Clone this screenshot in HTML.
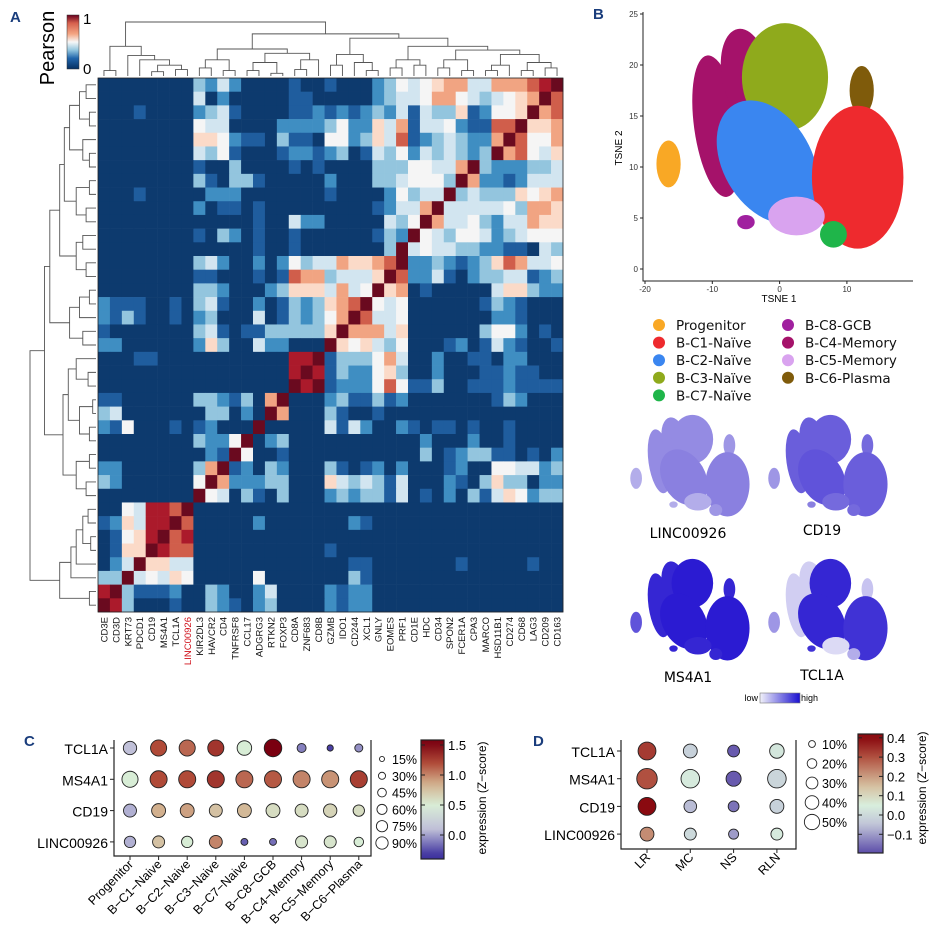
<!DOCTYPE html>
<html><head><meta charset="utf-8">
<style>
html,body{margin:0;padding:0;background:#fff;}
svg{display:block;font-family:"Liberation Sans",Arial,sans-serif;}
</style></head>
<body>
<svg id="fig" width="934" height="942" viewBox="0 0 934 942" xmlns="http://www.w3.org/2000/svg">
<defs>
<linearGradient id="gPear" x1="0" y1="1" x2="0" y2="0">
<stop offset="0" stop-color="#053061"/><stop offset="0.2" stop-color="#2166ac"/><stop offset="0.35" stop-color="#92c5de"/><stop offset="0.5" stop-color="#f7f7f7"/><stop offset="0.65" stop-color="#f4a582"/><stop offset="0.85" stop-color="#d6604d"/><stop offset="1" stop-color="#67001f"/>
</linearGradient>
<linearGradient id="gLow" x1="0" y1="0" x2="1" y2="0"><stop offset="0" stop-color="#f2f2fa"/><stop offset="1" stop-color="#1a10d0"/></linearGradient>
</defs>
<g id="panelA"></g>
<g id="panelB"></g>
<g id="panelC"></g>
<g id="panelD"></g>
</svg>
<script>
// ---------- Panel A data ----------
const genes = ["CD3E","CD3D","KRT73","PDCD1","CD19","MS4A1","TCL1A","LINC00926","KIR2DL3","HAVCR2","CD4","TNFRSF8","CCL17","ADGRG3","RTKN2","FOXP3","CD8A","ZNF683","CD8B","GZMB","IDO1","CD244","XCL1","GNLY","EOMES","PRF1","CD1E","HDC","CD34","SPON2","FCER1A","CPA3","MARCO","HSD11B1","CD274","CD68","LAG3","CD209","CD163"];
const corrRows = [
"00000000"+"32420000"+"10010002"+"35456774"+"477789A",
"00000000"+"40200000"+"11000002"+"34457754"+"34567A8",
"00010000"+"23410000"+"11212123"+"24143361"+"2556A78",
"00000000"+"54400002"+"22235226"+"47144521"+"188A667",
"00000000"+"66521103"+"11055236"+"48123432"+"27A8557",
"00000000"+"43510001"+"22123014"+"35243432"+"3A78546",
"00000000"+"10030000"+"10100003"+"3355447A"+"3222334",
"00000000"+"31033100"+"00020003"+"345553A7"+"2212444",
"00010000"+"02220000"+"00010000"+"25344A34"+"3336567",
"00000000"+"20110100"+"00000001"+"2447A444"+"4453776",
"00000000"+"00000100"+"42200000"+"435A7445"+"3244766",
"00000000"+"10320100"+"10000001"+"32A54355"+"4234555",
"00000000"+"00000100"+"10000000"+"3A454433"+"2211043",
"00000000"+"34200202"+"53447667"+"8A223212"+"3687445",
"00000000"+"11000101"+"87734446"+"A8224102"+"3344123",
"00000000"+"33200023"+"6664745A"+"67010000"+"0466322",
"21110010"+"34100201"+"323678A5"+"45000000"+"1321000",
"21310010"+"23000401"+"32357A84"+"45000000"+"0221000",
"10000000"+"34101133"+"3336A777"+"46000000"+"3552010",
"22000000"+"26300422"+"000A6564"+"35000120"+"1421001",
"00011000"+"00000000"+"99A13335"+"74002001"+"1022000",
"00000000"+"00000000"+"9A913225"+"63002000"+"1121100",
"00000000"+"00000000"+"A9A12225"+"85113001"+"1121111",
"11000000"+"3321307A"+"00023113"+"12000000"+"0132000",
"34000000"+"033020A7"+"00031001"+"00000000"+"0000000",
"21500010"+"12000A00"+"00041420"+"02101101"+"0010000",
"00000000"+"3225A023"+"00000000"+"00020002"+"0010000",
"00000000"+"021A5001"+"00000000"+"00030123"+"3110102",
"22000000"+"37A12032"+"00031012"+"02000120"+"0554423",
"32000000"+"5A722233"+"00064343"+"14000210"+"3633022",
"00000000"+"A5403103"+"00023233"+"14010203"+"1465233",
"0054998A"+"00000000"+"00000000"+"00000000"+"0000000",
"126499A8"+"00000200"+"00000210"+"00000000"+"0000000",
"01569A89"+"00000000"+"00000000"+"00000000"+"0000000",
"0166A988"+"00000000"+"00010000"+"00000000"+"0000000",
"024A6644"+"00000000"+"00000110"+"00000010"+"0000100",
"33A45465"+"00000500"+"00000310"+"00000000"+"0000000",
"9A311120"+"03200240"+"00021220"+"00000000"+"0000000",
"A9300010"+"03210230"+"00021220"+"00000000"+"0000000"
];
const dendro = [1.0,
 [0.55,[0.1,0,1],[0.38,2,[0.3,3,[0.2,[0.08,4,5],[0.12,6,7]]]]],
 [0.78,
  [0.5,[0.3,[0.15,8,9],[0.1,10,11]],[0.42,[0.25,[0.1,12,13],[0.05,14,15]],[0.3,[0.12,16,17],18]]],
  [0.7,[0.4,[0.2,19,20],[0.25,21,[0.1,22,23]]],[0.55,[0.3,[0.15,24,25],[0.2,26,27]],[0.48,[0.3,[0.15,28,29],[0.1,30,31]],[0.4,[0.2,[0.1,32,33],34],[0.25,[0.1,35,36],[0.15,37,38]]]]]]]];

// ---------- Panel B data ----------
const clusterNames = ["Progenitor","B-C1-Naïve","B-C2-Naïve","B-C3-Naïve","B-C7-Naïve","B-C8-GCB","B-C4-Memory","B-C5-Memory","B-C6-Plasma"];
const clusterColors = ["#f9a825","#ee2a2e","#3a86f0","#8faa1c","#1fb54a","#a0209f","#a5126a","#d9a3ef","#7f5b0b"];
const blobCluster = [6,6,3,8,2,1,7,4,5,0];
const blobCx = [-9.3,-5,0.8,12.2,-1.8,11.6,2.5,8,-5,-16.5];
const blobCy = [14,19,18.8,17.5,10.5,9,5.2,3.4,4.6,10.3];
const blobRx = [3.4,3.6,6.4,1.8,6.6,6.8,4.2,2,1.3,1.8];
const blobRy = [7,4.6,5.3,2.4,6.5,7,1.9,1.3,0.7,2.3];
const blobRot = [-8,-10,0,0,-30,0,0,0,0,0];
const tsneXTicks = [-20,-10,0,10];
const tsneYTicks = [0,5,10,15,20,25];
const featureGenes = ["LINC00926","CD19","MS4A1","TCL1A"];
const featLINC = [.3,.5,.5,.45,.4,.3,.45,.3,.4];
const featCD19 = [.4,.65,.7,.65,.6,.5,.65,.6,.6];
const featMS4A1 = [.7,.95,.95,.95,.9,.9,.9,.9,.9];
const featTCL1A = [.4,.85,.9,.9,.3,.85,.15,.1,.2];

// ---------- Panel C data ----------
const cGenes = ["TCL1A","MS4A1","CD19","LINC00926"];
const cGroups = ["Progenitor","B−C1−Naive","B−C2−Naive","B−C3−Naive","B−C7−Naive","B−C8−GCB","B−C4−Memory","B−C5−Memory","B−C6−Plasma"];
const cExpTCL1A = [0.1,1.2,1.1,1.3,0.5,1.55,-0.1,-0.3,-0.05];
const cExpMS4A1 = [0.5,1.2,1.2,1.3,1.1,1.15,1.0,0.95,1.25];
const cExpCD19 = [0.05,0.85,0.9,0.75,0.8,0.6,0.6,0.65,0.6];
const cExpLINC = [0.05,0.75,0.5,1.0,-0.2,-0.15,0.55,0.55,0.5];
const cPctTCL1A = [55,80,80,80,65,95,25,12,20];
const cPctMS4A1 = [80,90,90,90,90,90,90,90,90];
const cPctCD19 = [52,60,60,52,60,60,52,55,40];
const cPctLINC = [40,45,40,52,15,15,45,45,28];
const cSizeLegend = [15,30,45,60,75,90];
const cColorTicks = [1.5,1.0,0.5,0.0];

// ---------- Panel D data ----------
const dGenes = ["TCL1A","MS4A1","CD19","LINC00926"];
const dGroups = ["LR","MC","NS","RLN"];
const dExpTCL1A = [0.33,-0.02,-0.18,0.03];
const dExpMS4A1 = [0.3,0.04,-0.18,-0.01];
const dExpCD19 = [0.42,-0.06,-0.15,-0.02];
const dExpLINC = [0.22,0.0,-0.1,0.04];
const dPctTCL1A = [38,23,17,25];
const dPctMS4A1 = [50,41,27,41];
const dPctCD19 = [38,19,14,23];
const dPctLINC = [23,17,12,17];
const dSizeLegend = [10,20,30,40,50];
const dColorTicks = [0.4,0.3,0.2,0.1,0.0,-0.1];

// ---------- helpers ----------
const NS="http://www.w3.org/2000/svg";
function mk(parent,tag,attrs,text){const e=document.createElementNS(NS,tag);for(const k in attrs)e.setAttribute(k,attrs[k]);if(text!==undefined)e.textContent=text;parent.appendChild(e);return e;}
function hex2rgb(h){return [parseInt(h.slice(1,3),16),parseInt(h.slice(3,5),16),parseInt(h.slice(5,7),16)];}
function interp(stops,v){if(v<=stops[0][0])return stops[0][1];if(v>=stops[stops.length-1][0])return stops[stops.length-1][1];
 for(let i=0;i<stops.length-1;i++){const a=stops[i],b=stops[i+1];if(v>=a[0]&&v<=b[0]){const t=(v-a[0])/(b[0]-a[0]);const A=hex2rgb(a[1]),B=hex2rgb(b[1]);return "rgb("+A.map((x,j)=>Math.round(x+(B[j]-x)*t)).join(",")+")";}}}
const rdbu=["#0d3a6e","#1f5d9e","#3f8ec2","#93c5de","#d2e5f0","#f5f5f5","#fbdac8","#f1a482","#d05e4b","#ab1a2b","#6a0a1f"];

// ---------- Panel A ----------
const A=document.getElementById('panelA');
const hx0=98,hy0=78,hw=465,hh=534,cw=hw/39,rh=hh/39;
let t=mk(A,'text',{x:10,y:22,'font-size':15,'font-weight':'bold',fill:'#1a3d7c'},'A');

t=mk(A,'text',{x:0,y:0,'font-size':20,transform:'translate(54,48) rotate(-90)','text-anchor':'middle'},'Pearson');

let cb=mk(A,'rect',{x:67,y:15,width:12,height:54,fill:'url(#gPear)',stroke:'#333','stroke-width':0.5});

t=mk(A,'text',{x:83,y:24,'font-size':15},'1');
t=mk(A,'text',{x:83,y:74,'font-size':15},'0');
const hm=mk(A,'g',{});
for(let r=0;r<39;r++){for(let c=0;c<39;c++){const v=parseInt(corrRows[r][c],16);
 const el=mk(hm,'rect',{x:(hx0+c*cw).toFixed(2),y:(hy0+r*rh).toFixed(2),width:(cw+0.3).toFixed(2),height:(rh+0.3).toFixed(2),fill:rdbu[v]});
 }}
mk(A,'rect',{x:hx0,y:hy0,width:hw,height:hh,fill:'none',stroke:'#222','stroke-width':0.8});
genes.forEach((g,i)=>{const x=hx0+(i+0.5)*cw;
 const el=mk(A,'text',{x:0,y:0,'font-size':9.5,'text-anchor':'end',fill:g==='LINC00926'?'#d0101a':'#111',transform:`translate(${(x+3.5).toFixed(1)},${hy0+hh+5}) rotate(-90)`},g);
 });
function drawDendro(node,g,orient){
 if(typeof node==='number'){const p=orient==='top'?hx0+(node+0.5)*cw:hy0+(38-node+0.5)*rh;return {p:p,h:0};}
 const L=drawDendro(node[1],g,orient),R=drawDendro(node[2],g,orient),h=node[0];
 let d;
 if(orient==='top'){const s=v=>hy0-2-v*54;d=`M${L.p},${s(L.h)}V${s(h)}H${R.p}V${s(R.h)}`;}
 else{const s=v=>hx0-2-v*66;d=`M${s(L.h)},${L.p}H${s(h)}V${R.p}H${s(R.h)}`;}
 mk(g,'path',{d:d,fill:'none',stroke:'#555','stroke-width':0.9});
 return {p:(L.p+R.p)/2,h:h};}
const dt=mk(A,'g',{});
drawDendro(dendro,dt,'top');
const dl=mk(A,'g',{});
drawDendro(dendro,dl,'left');

// ---------- Panel B ----------
const B=document.getElementById('panelB');
t=mk(B,'text',{x:593,y:19,'font-size':15,'font-weight':'bold',fill:'#1a3d7c'},'B');

const tx=v=>645+(v+20)*6.73, ty=v=>269-v*10.2;
const bl=mk(B,'g',{});
blobCluster.forEach((ci,i)=>{const cx=tx(blobCx[i]),cy=ty(blobCy[i]);
 const e=mk(bl,'ellipse',{cx:cx,cy:cy,rx:blobRx[i]*6.73,ry:blobRy[i]*10.2,fill:clusterColors[ci],transform:`rotate(${blobRot[i]},${cx},${cy})`});
 });
let ax=mk(B,'path',{d:`M643,12V281H913`,fill:'none',stroke:'#222','stroke-width':1});

tsneXTicks.forEach(v=>{mk(B,'line',{x1:tx(v),x2:tx(v),y1:281,y2:284,stroke:'#222'});
 const e=mk(B,'text',{x:tx(v),y:292,'font-size':8,'text-anchor':'middle',fill:'#333'},String(v));});
tsneYTicks.forEach(v=>{mk(B,'line',{x1:640,x2:643,y1:ty(v),y2:ty(v),stroke:'#222'});
 const e=mk(B,'text',{x:638,y:ty(v)+3,'font-size':8,'text-anchor':'end',fill:'#333'},String(v));});
t=mk(B,'text',{x:779,y:302,'font-size':10,'text-anchor':'middle'},'TSNE 1');
t=mk(B,'text',{x:0,y:0,'font-size':10,'text-anchor':'middle',transform:'translate(622,148) rotate(-90)'},'TSNE 2');
clusterNames.forEach((n,i)=>{const col=i<5?0:1,row=i<5?i:i-5;const cx=col?788:659,cy=325+row*17.6;
 const g=mk(B,'g',{});
 mk(g,'circle',{cx:cx,cy:cy,r:6,fill:clusterColors[i]});
 mk(g,'text',{x:cx+17,y:cy+5,'font-size':13.5,fill:'#111','font-family':'"DejaVu Sans","Liberation Sans",sans-serif'},n);});
const featVals=[featLINC,featCD19,featMS4A1,featTCL1A];
const featOx=[628,766,628,766],featOy=[413,413,557,557],featLx=[688,822,688,822],featLy=[538,535,682,680];
featureGenes.forEach((gn,k)=>{const g=mk(B,'g',{});
 const fx=v=>featOx[k]+(v+19)*3.25, fy=v=>featOy[k]+(24.5-v)*4.6;
 blobCluster.forEach((ci,i)=>{const cx=fx(blobCx[i]),cy=fy(blobCy[i]);
  const e=mk(g,'ellipse',{cx:cx,cy:cy,rx:blobRx[i]*3.25,ry:blobRy[i]*4.6,fill:interp([[0,'#f0f0fa'],[0.5,'#8a80e0'],[1,'#2010d0']],featVals[k][ci]),transform:`rotate(${blobRot[i]},${cx},${cy})`});
  });
 mk(g,'text',{x:featLx[k],y:featLy[k],'font-size':14,'text-anchor':'middle','font-family':'"DejaVu Sans","Liberation Sans",sans-serif'},gn);});
t=mk(B,'text',{x:758,y:701,'font-size':9,'text-anchor':'end'},'low');
cb=mk(B,'rect',{x:760,y:693,width:40,height:10,fill:'url(#gLow)',stroke:'#777','stroke-width':0.6});
t=mk(B,'text',{x:801,y:701,'font-size':9},'high');

// ---------- dot plot helper ----------
function dotPlot(P,o){
 let e=mk(P,'text',{x:o.lx,y:o.ly,'font-size':15,'font-weight':'bold',fill:'#1a3d7c'},o.label);
 e=mk(P,'path',{d:`M${o.x0},${o.top}V${o.bot}H${o.x1}V${o.top}`,fill:'none',stroke:'#222','stroke-width':1.2});
 o.genes.forEach((gn,r)=>{const y=o.rowY(r);mk(P,'line',{x1:o.x0-4,x2:o.x0,y1:y,y2:y,stroke:'#222'});
  const el=mk(P,'text',{x:o.x0-6,y:y+6,'font-size':o.fs,'text-anchor':'end'},gn);
  o.groups.forEach((gr,c)=>{const x=o.colX(c);const d=mk(P,'circle',{cx:x,cy:y,r:o.rad(o.pct[r][c]),fill:interp(o.stops,o.exp[r][c]),stroke:'#222','stroke-width':0.9});
   });});
 o.groups.forEach((gr,c)=>{const x=o.colX(c);mk(P,'line',{x1:x,x2:x,y1:o.bot,y2:o.bot+4,stroke:'#222'});
  const el=mk(P,'text',{x:0,y:0,'font-size':o.xfs,'text-anchor':'end',transform:`translate(${x+4},${o.bot+9}) rotate(-45)`},gr);});
 o.sizeLegend.forEach((p,i)=>{const y=o.slY(i);const g=mk(P,'g',{});
  mk(g,'circle',{cx:o.slx,cy:y,r:o.slr(p),fill:'#fff',stroke:'#222','stroke-width':0.9});
  mk(g,'text',{x:o.slx+10,y:y+5,'font-size':12.5},p+'%');});
 const gid='g'+o.label;const lg=mk(P.ownerSVGElement.querySelector('defs'),'linearGradient',{id:gid,x1:0,y1:1,x2:0,y2:0});
 const vmin=o.cbVal(o.cbBot),vmax=o.cbVal(o.cbTop);
 for(let i=0;i<=20;i++){const v=vmin+(vmax-vmin)*i/20;mk(lg,'stop',{offset:i/20,'stop-color':interp(o.stops,v)});}
 e=mk(P,'rect',{x:o.cbx,y:o.cbTop,width:o.cbw,height:o.cbBot-o.cbTop,fill:`url(#${gid})`,stroke:'#222','stroke-width':1.2});
 o.ticks.forEach(v=>{const y=o.cbY(v);mk(P,'line',{x1:o.cbx,x2:o.cbx+4,y1:y,y2:y,stroke:'#222'});mk(P,'line',{x1:o.cbx+o.cbw-4,x2:o.cbx+o.cbw,y1:y,y2:y,stroke:'#222'});
  const el=mk(P,'text',{x:o.cbx+o.cbw+4,y:y+5,'font-size':13},(v<0?'−':'')+Math.abs(v).toFixed(1));});
 e=mk(P,'text',{x:0,y:0,'font-size':12,'text-anchor':'middle',transform:`translate(${o.ttx},${o.tty}) rotate(-90)`},'expression (Z−score)');
}
const cStops=[[-0.35,'#3b2f9e'],[0.1,'#c0c0d8'],[0.5,'#d8edd6'],[0.85,'#d2b08e'],[1.2,'#b04a38'],[1.55,'#7a0010']];
dotPlot(document.getElementById('panelC'),{label:'C',lx:24,ly:746,x0:114,x1:371,top:740,bot:856,fs:14,xfs:12.5,
 genes:cGenes,groups:cGroups,exp:[cExpTCL1A,cExpMS4A1,cExpCD19,cExpLINC],pct:[cPctTCL1A,cPctMS4A1,cPctCD19,cPctLINC],
 rowY:r=>748+r*31.3,colX:c=>130+c*28.6,rad:p=>0.9*Math.sqrt(p),stops:cStops,
 sizeLegend:cSizeLegend,slx:382,slY:i=>759+i*16.8,slr:p=>0.65*Math.sqrt(p),
 cbx:421,cbw:23,cbTop:740,cbBot:859,cbY:v=>835-v*60,cbVal:y=>(835-y)/60,ticks:cColorTicks,ttx:486,tty:798});
const dStops=[[-0.2,'#5a4aa8'],[-0.05,'#c0c4d8'],[0.05,'#d8eedd'],[0.15,'#d6c0a0'],[0.3,'#b05040'],[0.4,'#8a0a10']];
dotPlot(document.getElementById('panelD'),{label:'D',lx:533,ly:746,x0:621,x1:796,top:740,bot:849,fs:14,xfs:12.5,
 genes:dGenes,groups:dGroups,exp:[dExpTCL1A,dExpMS4A1,dExpCD19,dExpLINC],pct:[dPctTCL1A,dPctMS4A1,dPctCD19,dPctLINC],
 rowY:r=>751+r*27.7,colX:c=>647+c*43.3,rad:p=>1.45*Math.sqrt(p),stops:dStops,
 sizeLegend:dSizeLegend,slx:812,slY:i=>744+i*19.5,slr:p=>1.08*Math.sqrt(p),
 cbx:858,cbw:25,cbTop:734,cbBot:853,cbY:v=>815-v*193,cbVal:y=>(815-y)/193,ticks:dColorTicks,ttx:926,tty:788});
</script>
</body></html>
